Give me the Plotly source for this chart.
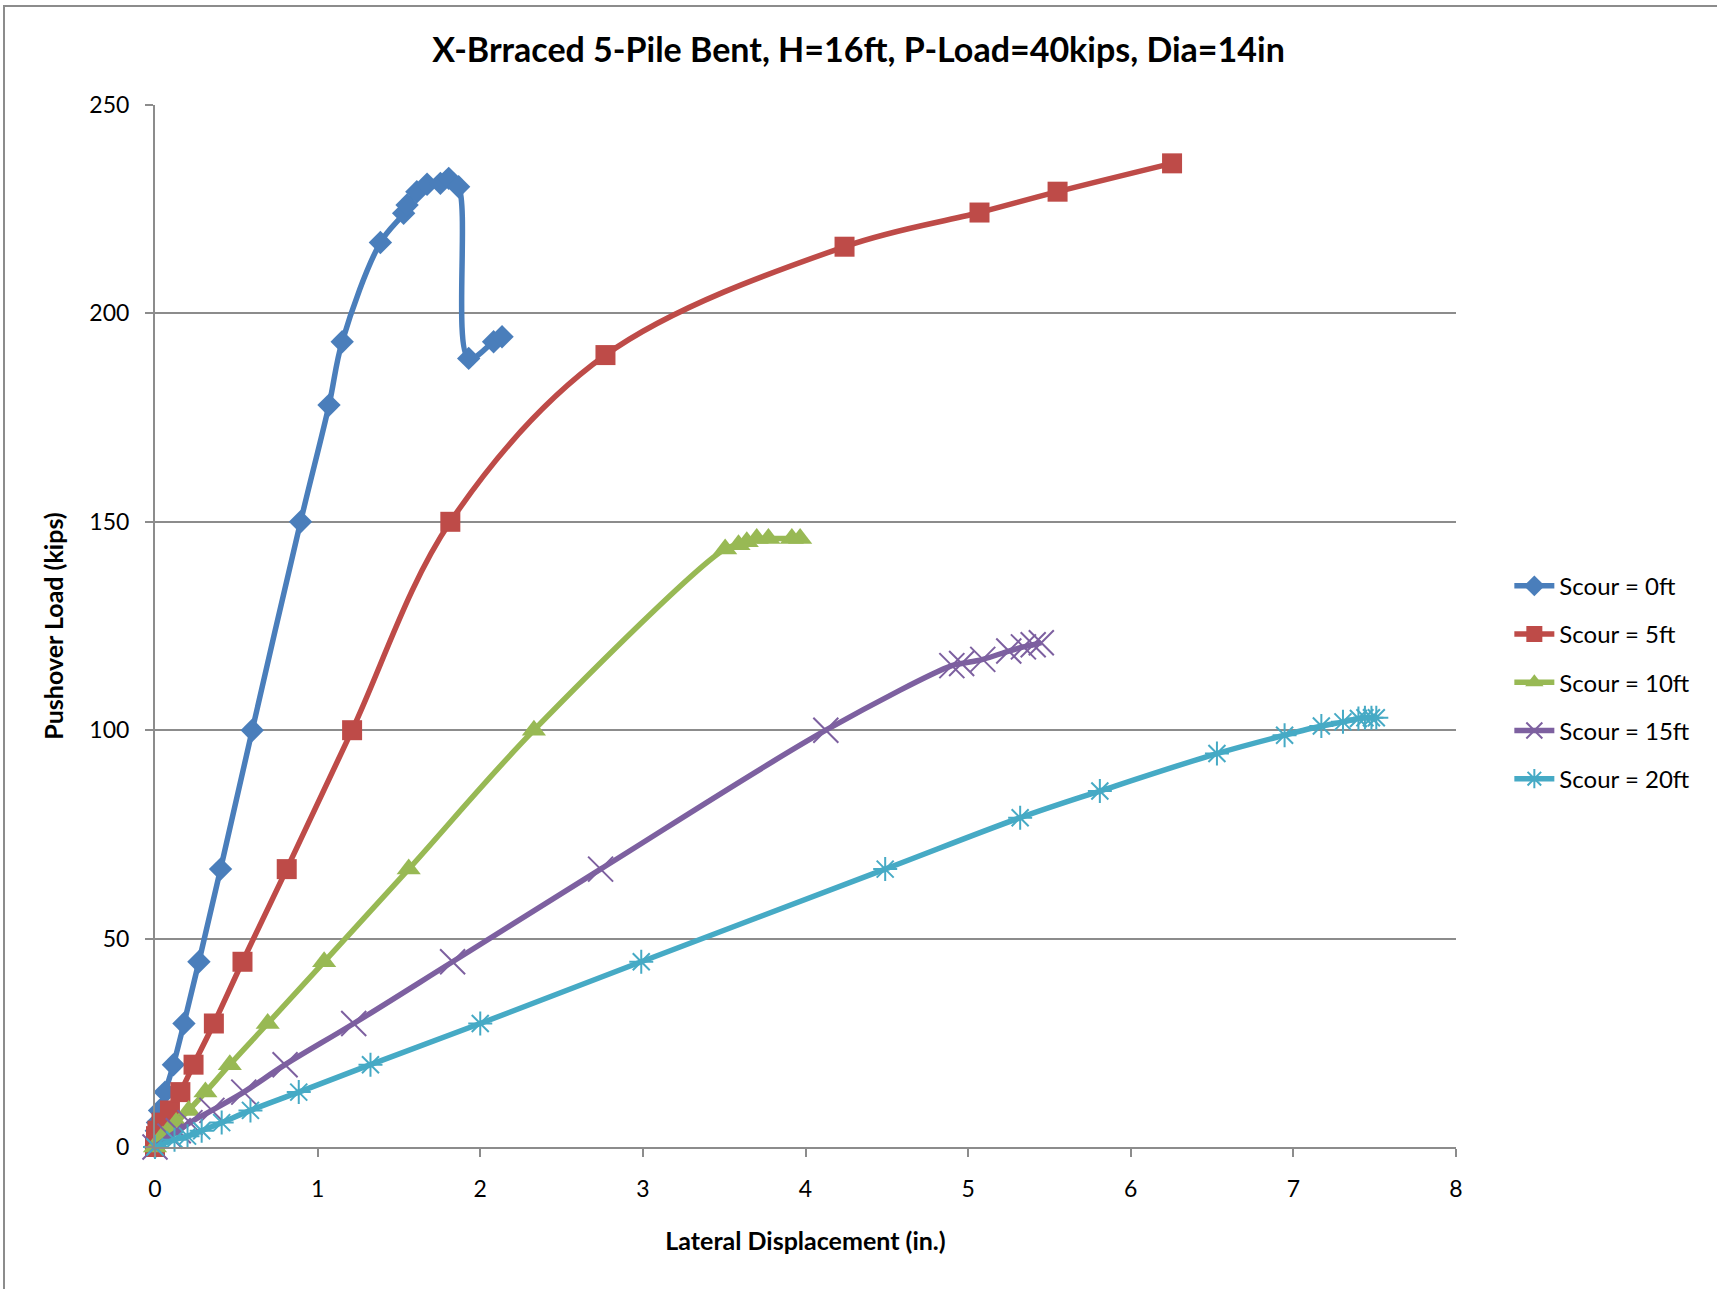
import plotly.graph_objects as go

# ---- data ----
names = ["Scour = 0ft", "Scour = 5ft", "Scour = 10ft", "Scour = 15ft", "Scour = 20ft"]

x0 = [0, 0.008, 0.015, 0.028, 0.062, 0.113, 0.178, 0.27, 0.403, 0.598, 0.895, 1.07, 1.151,
      1.386, 1.529, 1.55, 1.61, 1.673, 1.755, 1.806, 1.867, 1.929, 2.082, 2.134]
y0 = [0, 3.9, 5.85, 8.78, 13.17, 19.75, 29.63, 44.44, 66.67, 100, 150, 178, 193.2,
      217, 224, 226, 229.2, 231, 231.2, 232.4, 230.4, 189.2, 193.2, 194.4]

x5 = [0, 0.006, 0.015, 0.04, 0.092, 0.156, 0.237, 0.362, 0.538, 0.81, 1.212, 1.816,
      2.77, 4.24, 5.07, 5.55, 6.254]
y5 = [0, 2.6, 3.9, 5.85, 8.78, 13.17, 19.75, 29.63, 44.44, 66.67, 100, 150,
      190, 216, 224.2, 229.2, 236]

x10 = [0, 0.045, 0.08, 0.13, 0.207, 0.31, 0.46, 0.693, 1.04, 1.56, 2.33,
       3.506, 3.588, 3.639, 3.70, 3.772, 3.916, 3.967]
y10 = [0, 2.6, 3.9, 5.85, 8.78, 13.17, 19.75, 29.63, 44.44, 66.67, 100,
       143.5, 144.5, 145.2, 146, 146, 146, 146]

x15 = [0, 0.092, 0.143, 0.215, 0.35, 0.546, 0.80, 1.222, 1.83, 2.74, 4.125,
       4.90, 4.96, 5.09, 5.25, 5.34, 5.40, 5.45]
y15 = [0, 2.6, 3.9, 5.85, 8.78, 13.17, 19.75, 29.63, 44.44, 66.67, 100,
       115.5, 116, 117, 119, 120, 120.5, 121]

x20 = [0, 0.12, 0.2, 0.287, 0.41, 0.587, 0.884, 1.325, 2.0, 2.99, 4.49,
       5.32, 5.81, 6.53, 6.946, 7.172, 7.305, 7.40, 7.44, 7.48, 7.51]
y20 = [0, 1.73, 2.6, 3.9, 5.85, 8.78, 13.17, 19.75, 29.63, 44.44, 66.67,
       79, 85.4, 94.4, 98.8, 101, 102, 102.8, 103, 103, 103]

xs = [x0, x5, x10, x15, x20]
ys = [y0, y5, y10, y15, y20]

x_ticks = [0, 1, 2, 3, 4, 5, 6, 7, 8]
y_ticks = [0, 50, 100, 150, 200, 250]

# ---- styles ----
colors = ["#4A7EBB", "#BE4B48", "#98B954", "#7D60A0", "#46AAC5"]
markers = [
    dict(symbol="diamond", size=18),
    dict(symbol="square", size=20),
    dict(symbol="triangle-up", size=21),
    dict(symbol="x-thin-open", size=25, line=dict(width=2)),
    dict(symbol="asterisk-open", size=20, line=dict(width=2)),
]

FONT = "Lato, Carlito, Calibri, 'Open Sans', sans-serif"
GRID = "#8C8C8C"

fig = go.Figure()
for i in range(5):
    m = dict(markers[i])
    m["color"] = colors[i]
    if "line" in m:
        m["line"] = dict(m["line"], color=colors[i])
    fig.add_trace(go.Scatter(
        x=xs[i], y=ys[i], name=names[i], mode="lines+markers",
        line=dict(color=colors[i], width=5.5, shape="spline", smoothing=1),
        marker=m, cliponaxis=False, legendgroup=str(i),
    ))

fig.update_layout(
    width=1717, height=1289,
    paper_bgcolor="white", plot_bgcolor="white",
    margin=dict(l=155, r=261, t=105, b=142),
    font=dict(family=FONT, color="black", size=24),
    title=dict(text="<b>X-Brraced 5-Pile Bent, H=16ft, P-Load=40kips, Dia=14in</b>",
               x=0.5, xref="container", xanchor="center",
               y=1 - 50 / 1289, yref="container", yanchor="middle",
               font=dict(family=FONT, size=34, color="black")),
    legend=dict(x=1.041, xanchor="left", y=0.446, yanchor="middle",
                font=dict(family=FONT, size=24, color="black"),
                tracegroupgap=14, traceorder="grouped", itemwidth=40,
                bgcolor="rgba(0,0,0,0)"),
    showlegend=True,
)

fig.update_xaxes(
    range=[0, 8], tickvals=x_ticks, ticktext=[str(v) for v in x_ticks],
    showgrid=False, zeroline=False, showline=True, linecolor=GRID, linewidth=2,
    ticks="outside", ticklen=8, tickwidth=2, tickcolor=GRID,
    ticklabelstandoff=12,
    tickfont=dict(family=FONT, size=23, color="black"),
    title=dict(text="<b>Lateral Displacement (in.)</b>", standoff=32,
               font=dict(family=FONT, size=25, color="black")),
)
fig.update_yaxes(
    range=[0, 250], tickvals=y_ticks, ticktext=[str(v) for v in y_ticks],
    showgrid=True, gridcolor=GRID, gridwidth=2,
    zeroline=False, showline=True, linecolor=GRID, linewidth=2,
    ticks="outside", ticklen=8, tickwidth=2, tickcolor=GRID,
    ticklabelstandoff=11,
    tickfont=dict(family=FONT, size=23, color="black"),
    title=dict(text="<b>Pushover Load (kips)</b>", standoff=19,
               font=dict(family=FONT, size=25, color="black")),
)

# outer chart frame (Excel chart area border)
fig.add_shape(type="rect", xref="paper", yref="paper",
              x0=(4 - 155) / 1301, x1=1.5, y0=-0.3, y1=(1146.5 - 6) / 1041.5,
              line=dict(color="#8C8C8C", width=2), fillcolor="rgba(0,0,0,0)",
              layer="below")

fig.write_html("out.html",
               config={"displayModeBar": False},
               post_script="document.body.style.margin='0px';document.body.style.overflow='hidden';")
